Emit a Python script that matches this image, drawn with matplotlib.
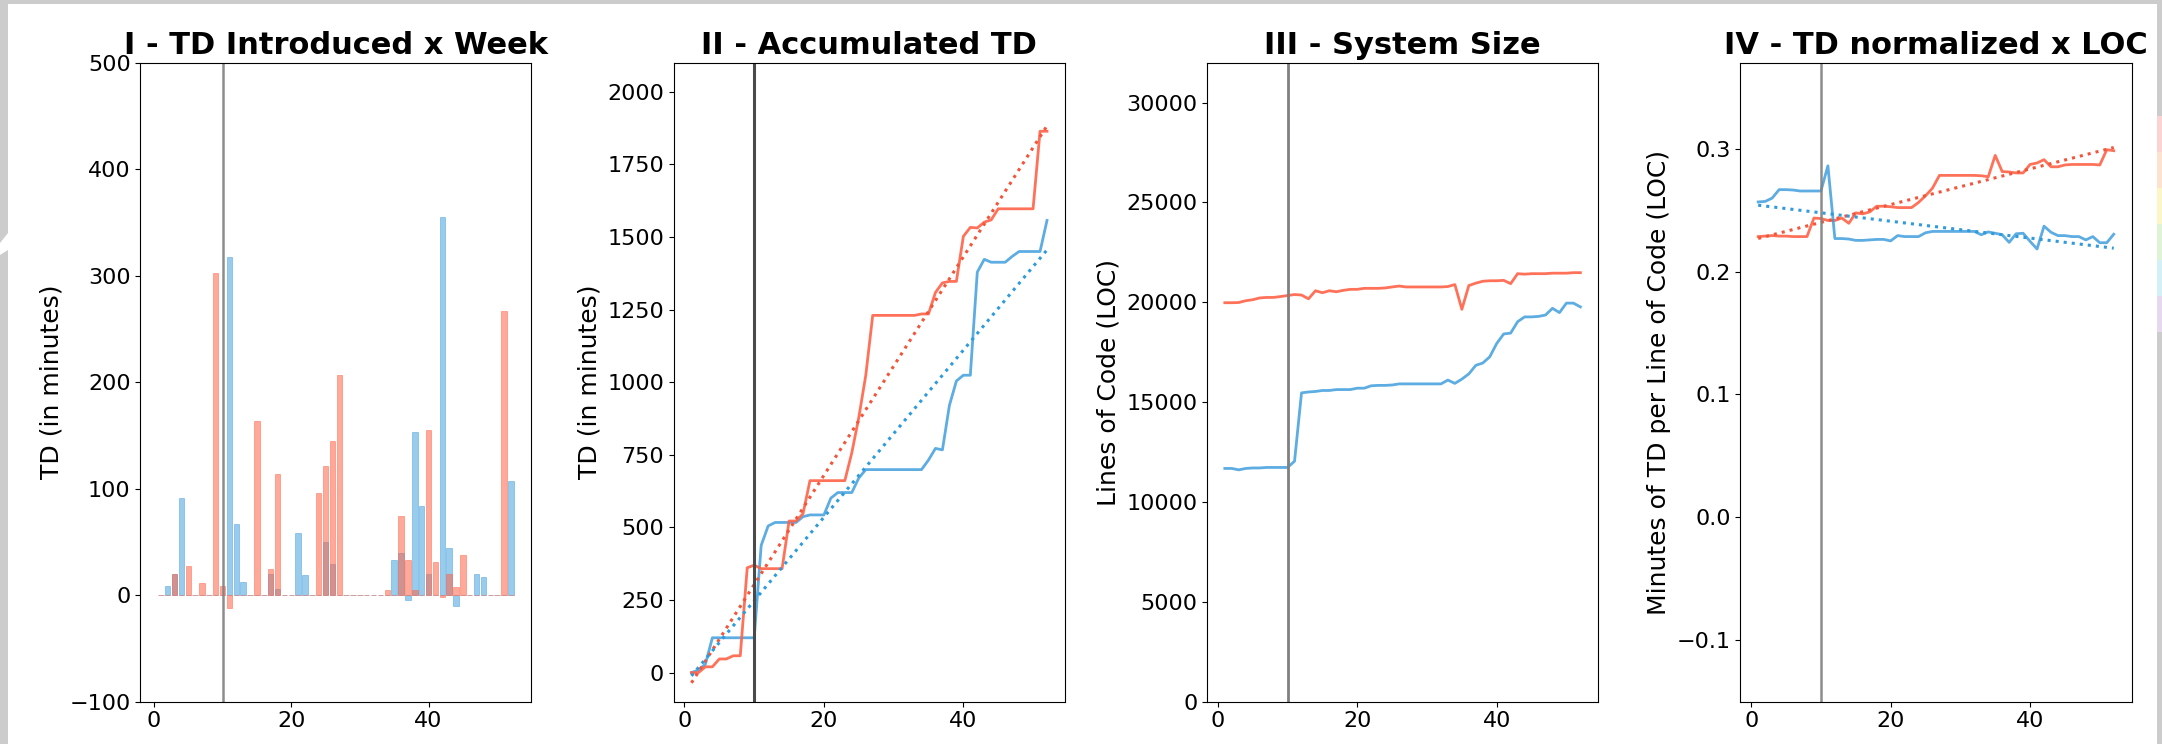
import numpy as np
import matplotlib
matplotlib.use("Agg")
import matplotlib.pyplot as plt
from matplotlib.patches import Rectangle, Polygon

# ---- data -------------------------------------------------------------
weeks = list(range(1, 53))
split_week = 10

# TD introduced per week (minutes)
td_week_red = [0, 0, 20, 0, 27, 0, 11, 0, 303, 9, -12, 0, 0, 0, 164, 0, 25, 114, 0, 0,
               0, 0, 0, 96, 121, 145, 207, 0, 0, 0, 0, 0, 0, 5, 0, 74, 33, 5, 0, 155,
               31, -2, 20, 8, 38, 0, 0, 0, 0, 0, 267, 0]
td_week_blue = [0, 9, 20, 91, 0, 0, 0, 0, 0, 0, 318, 67, 12, 0, 0, 0, 20, 6, 0, 0,
                58, 19, 0, 0, 50, 29, 0, 0, 0, 0, 0, 0, 0, 0, 33, 40, -5, 153, 84, 20,
                0, 355, 44, -10, 0, 0, 20, 17, 0, 0, 0, 107]

# System size (lines of code)
loc_red = [19980, 19980, 19990, 20080, 20130, 20220, 20245, 20245, 20290, 20340,
           20390, 20365, 20175, 20580, 20480, 20580, 20530, 20600, 20650, 20650,
           20700, 20700, 20700, 20720, 20770, 20815, 20770, 20770, 20770, 20770,
           20770, 20770, 20790, 20890, 19650, 20840, 20960, 21055, 21080, 21080,
           21100, 20935, 21435, 21410, 21435, 21435, 21435, 21460, 21460, 21460,
           21485, 21485]
loc_blue = [11680, 11680, 11610, 11680, 11705, 11705, 11730, 11730, 11730, 11730,
            12040, 15465, 15510, 15535, 15585, 15585, 15630, 15630, 15630, 15700,
            15700, 15820, 15840, 15840, 15860, 15915, 15915, 15915, 15915, 15915,
            15915, 15915, 16105, 15940, 16155, 16415, 16845, 16960, 17270, 17940,
            18415, 18460, 19030, 19270, 19270, 19295, 19365, 19700, 19485, 19960,
            19960, 19770]

# TD minutes per line of code
norm_red = [0.2285, 0.2289, 0.2293, 0.2289, 0.2289, 0.2285, 0.2285, 0.2285, 0.2436, 0.2432,
            0.2416, 0.2416, 0.2436, 0.2393, 0.2478, 0.2470, 0.2486, 0.2532, 0.2532, 0.2528,
            0.2521, 0.2521, 0.2521, 0.2563, 0.2617, 0.2679, 0.2783, 0.2783, 0.2783, 0.2783,
            0.2783, 0.2783, 0.2780, 0.2772, 0.2946, 0.2814, 0.2811, 0.2803, 0.2803, 0.2872,
            0.2884, 0.2911, 0.2853, 0.2853, 0.2868, 0.2872, 0.2872, 0.2872, 0.2872, 0.2868,
            0.2992, 0.2984]
norm_blue = [0.2567, 0.2571, 0.2598, 0.2667, 0.2667, 0.2664, 0.2656, 0.2656, 0.2656, 0.2656,
             0.2861, 0.2269, 0.2269, 0.2265, 0.2254, 0.2254, 0.2258, 0.2262, 0.2262, 0.2250,
             0.2293, 0.2285, 0.2285, 0.2285, 0.2316, 0.2327, 0.2327, 0.2327, 0.2327, 0.2327,
             0.2327, 0.2327, 0.2300, 0.2323, 0.2312, 0.2300, 0.2238, 0.2308, 0.2312, 0.2246,
             0.2184, 0.2370, 0.2320, 0.2293, 0.2293, 0.2285, 0.2285, 0.2258, 0.2285, 0.2235,
             0.2235, 0.2304]

titles = ["I - TD Introduced x Week", "II - Accumulated TD",
          "III - System Size", "IV - TD normalized x LOC"]
ylabels = ["TD (in minutes)", "TD (in minutes)", "Lines of Code (LOC)",
           "Minutes of TD per Line of Code (LOC)"]

# ---- styling ----------------------------------------------------------
RED = "tomato"
BLUE = "#3498db"
RED_DOT = "#f2553a"
BLUE_DOT = "#2f9bdb"

plt.rcParams["font.family"] = ["DejaVu Sans"]
plt.rcParams["xtick.labelsize"] = 16
plt.rcParams["ytick.labelsize"] = 16

fig = plt.figure(figsize=(21.62, 7.44), dpi=100)
fig.patch.set_facecolor("white")

lefts = [0.0649, 0.3116, 0.5583, 0.8050]
width, bottom, height = 0.1809, 0.0569, 0.8588
axes = [fig.add_axes([l, bottom, width, height]) for l in lefts]

x = np.array(weeks)


def trend(ax, xs, ys, color):
    k, b = np.polyfit(xs, ys, 1)
    ax.plot(xs, k * xs + b, linestyle=":", color=color, lw=2.2)


# I - weekly TD bars
ax = axes[0]
ax.bar(x, td_week_blue, width=0.8, color=BLUE, alpha=0.5, edgecolor=BLUE, linewidth=0.6)
ax.bar(x, td_week_red, width=0.8, color=RED, alpha=0.55, edgecolor=RED, linewidth=0.6)
ax.axvline(split_week, color="#808080", lw=1.8, alpha=0.9)
ax.set_ylim(-100, 500)
ax.set_yticks(range(-100, 501, 100))

# II - accumulated TD
ax = axes[1]
cum_red = np.cumsum(td_week_red)
cum_blue = np.cumsum(td_week_blue)
ax.plot(x, cum_blue, color=BLUE, alpha=0.8, lw=2)
ax.plot(x, cum_red, color=RED, alpha=0.9, lw=2)
trend(ax, x, cum_red, RED_DOT)
trend(ax, x, cum_blue, BLUE_DOT)
ax.axvline(split_week, color="#4a4a4a", lw=2.2)
ax.set_ylim(-100, 2100)
ax.set_yticks(range(0, 2001, 250))

# III - system size
ax = axes[2]
ax.plot(x, loc_red, color=RED, alpha=0.9, lw=2)
ax.plot(x, loc_blue, color=BLUE, alpha=0.8, lw=2)
ax.axvline(split_week, color="#808080", lw=2)
ax.set_ylim(0, 32000)
ax.set_yticks(range(0, 30001, 5000))

# IV - TD per LOC
ax = axes[3]
ax.plot(x, norm_red, color=RED, alpha=0.9, lw=2)
ax.plot(x, norm_blue, color=BLUE, alpha=0.8, lw=2)
trend(ax, x, np.array(norm_red), RED_DOT)
trend(ax, x, np.array(norm_blue), BLUE_DOT)
ax.axvline(split_week, color="#808080", lw=1.8, alpha=0.9)
ax.set_ylim(-0.15, 0.37)
ax.set_yticks([-0.1, 0.0, 0.1, 0.2, 0.3])

for ax, t, yl in zip(axes, titles, ylabels):
    ax.set_title(t, fontsize=22, fontweight="bold")
    ax.set_ylabel(yl, fontsize=18)
    ax.set_xticks([0, 20, 40])

# light grey frame around the canvas
W, H = 2162, 744
def px_rect(x0, y0, w, h, color):
    fig.add_artist(Rectangle((x0 / W, 1 - (y0 + h) / H), w / W, h / H,
                             transform=fig.transFigure, facecolor=color,
                             edgecolor="none", zorder=-1))

px_rect(0, 0, W, 4, "#cccccc")
px_rect(0, 0, 8, H, "#cccccc")
px_rect(W - 5, 0, 5, H, "#cccccc")
fig.add_artist(Polygon([(0, 1 - 243 / H), (8 / W, 1 - 233 / H), (8 / W, 1 - 250 / H),
                        (0, 1 - 255 / H)], closed=True, transform=fig.transFigure,
                       facecolor="white", edgecolor="none"))
for i, c in enumerate(["#fbd3d3", "#fde3cf", "#fbf6c8", "#dff3d6", "#d4f0f7", "#e6d9ef"]):
    px_rect(W - 5, 116 + i * 36, 5, 36, c)

fig.savefig("out.png", dpi=100, facecolor="white")
